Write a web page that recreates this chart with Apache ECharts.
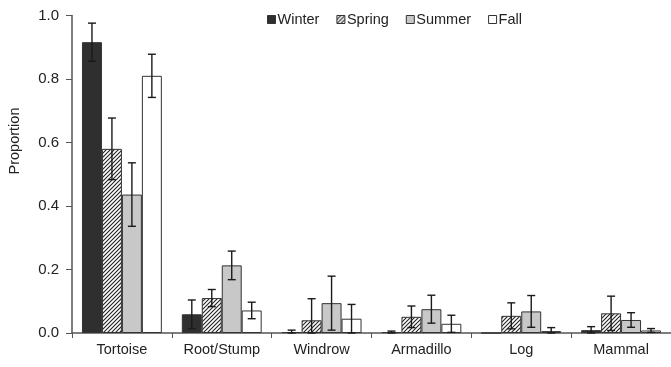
<!DOCTYPE html>
<html>
<head>
<meta charset="utf-8">
<script src="https://cdn.jsdelivr.net/npm/echarts@6/dist/echarts.min.js"></script>
<style>
html,body{margin:0;padding:0;background:#fff;}
#chart{width:671px;height:367px;}
</style>
</head>
<body>
<div id="chart"></div>
<script>
var categories = ['Tortoise', 'Root/Stump', 'Windrow', 'Armadillo', 'Log', 'Mammal'];
var seasons = ['Winter', 'Spring', 'Summer', 'Fall'];
var winter    = [0.916, 0.059, 0.003, 0.003, 0.000, 0.009];
var winterErr = [0.060, 0.045, 0.006, 0.003, 0.000, 0.011];
var spring    = [0.580, 0.110, 0.040, 0.051, 0.054, 0.062];
var springErr = [0.097, 0.027, 0.068, 0.034, 0.041, 0.054];
var summer    = [0.436, 0.213, 0.094, 0.075, 0.068, 0.041];
var summerErr = [0.100, 0.045, 0.085, 0.044, 0.050, 0.023];
var fall      = [0.810, 0.071, 0.045, 0.029, 0.006, 0.008];
var fallErr   = [0.068, 0.026, 0.045, 0.027, 0.011, 0.006];
var yTicks = [0, 0.2, 0.4, 0.6, 0.8, 1.0];
var yName = 'Proportion';

var values = [winter, spring, summer, fall];
var errors = [winterErr, springErr, summerErr, fallErr];

// hatch pattern
var hc = document.createElement('canvas');
hc.width = 4; hc.height = 4;
var hx = hc.getContext('2d');
hx.fillStyle = '#ffffff'; hx.fillRect(0, 0, 4, 4);
hx.strokeStyle = '#222'; hx.lineWidth = 1.1;
hx.beginPath();
hx.moveTo(-1, 5); hx.lineTo(5, -1);
hx.moveTo(-1, 1); hx.lineTo(1, -1);
hx.moveTo(3, 5); hx.lineTo(5, 3);
hx.stroke();

var fills = ['#2f2f2f', {image: hc, repeat: 'repeat'}, '#c8c8c8', '#ffffff'];

var series = seasons.map(function (name, i) {
  return {
    name: name,
    type: 'bar',
    data: values[i],
    barGap: '0%',
    barCategoryGap: '20%',
    itemStyle: {color: fills[i], borderColor: '#333', borderWidth: 1},
    emphasis: {disabled: true},
    animation: false
  };
});

var errData = [];
for (var s = 0; s < 4; s++) {
  for (var c = 0; c < categories.length; c++) {
    if (errors[s][c] > 0) errData.push([c, s, values[s][c], errors[s][c]]);
  }
}

series.push({
  type: 'custom',
  name: 'err',
  data: errData,
  z: 10,
  animation: false,
  renderItem: function (params, api) {
    var c = api.value(0), s = api.value(1), v = api.value(2), e = api.value(3);
    var band = api.size([1, 0])[0];
    var center = api.coord([c, 0])[0];
    var x = center + (-0.3 + 0.2 * s) * band;
    var top = api.coord([c, v + e])[1];
    var bot = api.coord([c, Math.max(0, v - e)])[1];
    var hw = 4;
    var st = {stroke: '#1a1a1a', lineWidth: 1.4};
    return {
      type: 'group',
      children: [
        {type: 'line', shape: {x1: x, y1: top, x2: x, y2: bot}, style: st},
        {type: 'line', shape: {x1: x - hw, y1: top, x2: x + hw, y2: top}, style: st},
        {type: 'line', shape: {x1: x - hw, y1: bot, x2: x + hw, y2: bot}, style: st}
      ]
    };
  }
});

var chart = echarts.init(document.getElementById('chart'), null, {renderer: 'canvas'});
chart.setOption({
  animation: false,
  backgroundColor: '#fff',
  textStyle: {fontFamily: 'Liberation Sans, Arial, sans-serif'},
  grid: {left: 72, right: 0, top: 15.5, bottom: 34, containLabel: false, outerBoundsMode: 'none'},
  legend: {
    data: seasons,
    top: 7,
    left: 262,
    icon: 'rect',
    itemWidth: 8,
    itemHeight: 8,
    itemGap: 17,
    textStyle: {fontSize: 14.5, color: '#222', fontFamily: 'Liberation Sans, Arial, sans-serif', padding: [0, 0, 0, -3]},
    itemStyle: {borderColor: '#333', borderWidth: 1}
  },
  graphic: [{
    type: 'text',
    x: 15, y: 141,
    rotation: Math.PI / 2,
    style: {text: yName, fontSize: 14.5, fill: '#222', fontFamily: 'Liberation Sans, Arial, sans-serif', align: 'center', verticalAlign: 'middle'}
  }],
  xAxis: {
    type: 'category',
    data: categories,
    axisLine: {lineStyle: {color: '#555', width: 1.5}},
    axisTick: {show: true, length: 5, lineStyle: {color: '#555'}},
    axisLabel: {fontSize: 14.5, color: '#222', margin: 9}
  },
  yAxis: {
    type: 'value',
    min: 0, max: 1, interval: 0.2,
    axisLine: {show: true, lineStyle: {color: '#555', width: 1.5}},
    axisTick: {show: true, length: 6, lineStyle: {color: '#555'}},
    splitLine: {show: false},
    axisLabel: {
      fontSize: 15, color: '#222', margin: 13,
      formatter: function (v) {
        for (var i = 0; i < yTicks.length; i++) if (Math.abs(yTicks[i] - v) < 1e-9) return yTicks[i].toFixed(1);
        return '';
      }
    }
  },
  series: series
});
</script>
</body>
</html>
